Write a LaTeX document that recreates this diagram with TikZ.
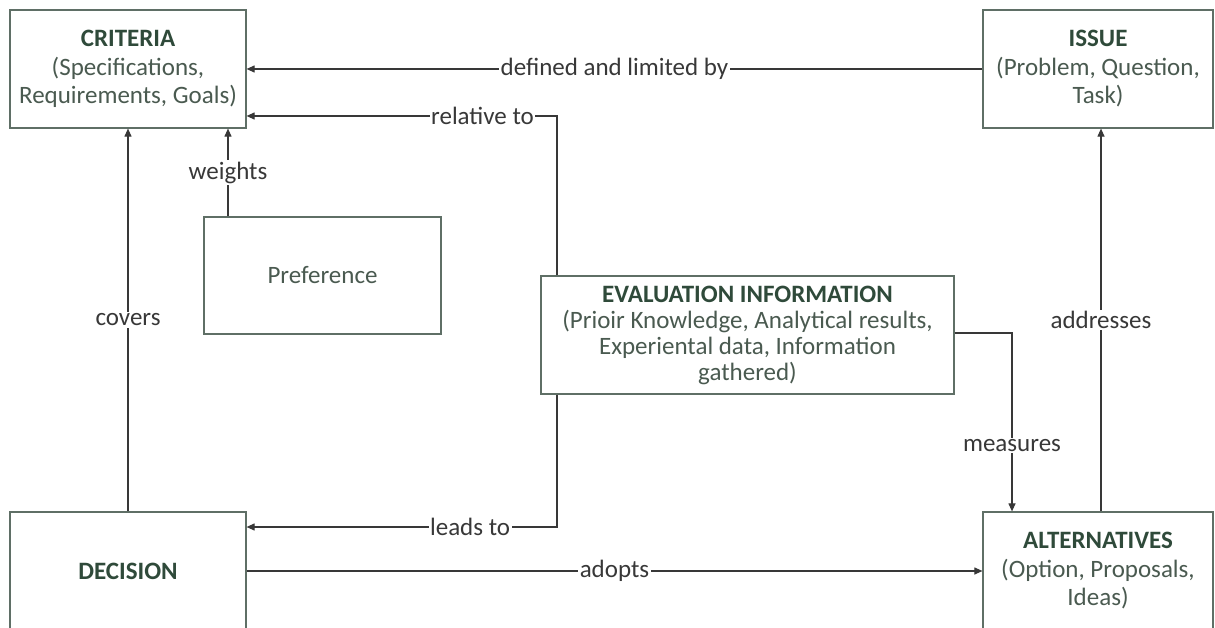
\documentclass[tikz,border=0pt]{standalone}
\usepackage{fontspec}
\setmainfont{Carlito}
\usetikzlibrary{arrows.meta}
\definecolor{boxline}{HTML}{5F6F66}
\definecolor{titlecol}{HTML}{2F4A3A}
\definecolor{bodycol}{HTML}{4A5A50}
\definecolor{linecol}{HTML}{383838}
\begin{document}
\begin{tikzpicture}[x=1pt,y=-1pt,
  box/.style={draw=boxline, line width=1.2pt, fill=white, align=center,
    font=\fontsize{25}{28.5}\selectfont, text=bodycol, inner sep=0pt},
  conn/.style={draw=linecol, line width=1.1pt},
  arr/.style={conn, -{Triangle[length=8pt,width=7pt]}},
  lab/.style={fill=white, text=linecol, font=\fontsize{25}{27}\selectfont, inner sep=1.5pt}]
\useasboundingbox (0,0) rectangle (1215,628);
\clip (0,0) rectangle (1215,628);
\fill[white] (0,0) rectangle (1215,628);
% boxes
\node[box, minimum width=236pt, minimum height=118pt] (crit) at (128,69)
  {{\bfseries\color{titlecol}CRITERIA}\\(Specifications,\\Requirements, Goals)};
\node[box, minimum width=230pt, minimum height=118pt] (issue) at (1098,69)
  {{\bfseries\color{titlecol}ISSUE}\\(Problem, Question,\\Task)};
\node[box, minimum width=237pt, minimum height=117pt] (pref) at (322.5,275.5)
  {Preference};
\node[box, minimum width=413pt, minimum height=118pt, font=\fontsize{25}{26}\selectfont] (eval) at (747.5,335)
  {{\bfseries\color{titlecol}EVALUATION INFORMATION}\\(Prioir Knowledge, Analytical results,\\Experiental data, Information\\gathered)};
\node[box, minimum width=236pt, minimum height=118pt] (dec) at (128,571)
  {{\bfseries\color{titlecol}DECISION}};
\node[box, minimum width=230pt, minimum height=118pt] (alt) at (1098,571)
  {{\bfseries\color{titlecol}ALTERNATIVES}\\(Option, Proposals,\\Ideas)};
% helper coordinates
\coordinate (c1) at (557,116);
\coordinate (c2) at (557,527);
\coordinate (c3) at (1012,333);
\coordinate (c4) at (1101,320);
\coordinate (c5) at (228,172);
% connectors
\draw[arr] (issue.west) -- node[lab]{defined and limited by} (crit.east);
\draw[arr] (eval.north -| c1) -- (c1) -- node[lab, pos=0.24]{relative to} (crit.east |- c1);
\draw[arr] (pref.north -| c5) -- node[lab]{weights} (crit.south -| c5);
\draw[arr] (dec.north) -- node[lab]{covers} (crit.south);
\draw[arr] (eval.south -| c2) -- (c2) -- node[lab, pos=0.28]{leads to} (dec.east |- c2);
\draw[arr] (dec.east) -- node[lab]{adopts} (alt.west);
\draw[arr] (eval.east |- c3) -- (c3) -- node[lab, pos=0.63]{measures} (alt.north -| c3);
\draw[arr] (alt.north -| c4) -- node[lab]{addresses} (issue.south -| c4);
\end{tikzpicture}
\end{document}
